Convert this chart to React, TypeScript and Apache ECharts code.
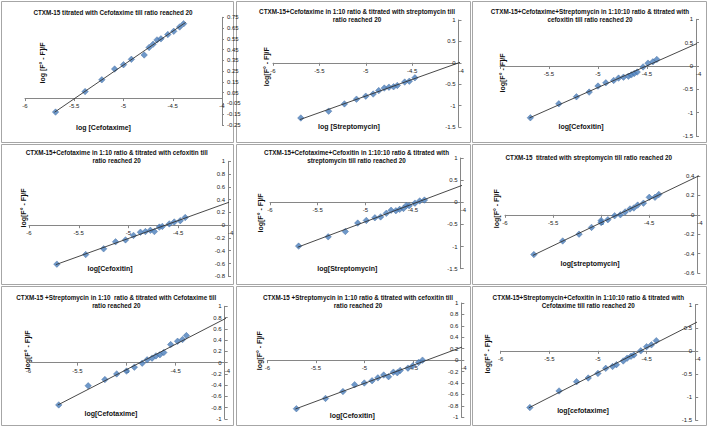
import React, { useEffect, useRef } from "react";
import * as echarts from "echarts";

// ---------- tick labels ----------
const xTicks = [-6, -5.5, -5, -4.5, -4];
const xTicksP3 = [-5.5, -5, -4.5, -4];
const p1YTicks = [-0.25, -0.15, -0.05, 0.05, 0.15, 0.25, 0.35, 0.45, 0.55, 0.65, 0.75];

// ---------- data ----------
const p1X = [-5.69, -5.39, -5.22, -5.09, -5.0, -4.92, -4.79, -4.74, -4.7, -4.66, -4.62, -4.55, -4.49, -4.43, -4.39];
const p1Y = [-0.13, 0.06, 0.17, 0.27, 0.31, 0.36, 0.4, 0.47, 0.5, 0.54, 0.55, 0.59, 0.62, 0.66, 0.69];

const p2X = [-5.7, -5.4, -5.23, -5.1, -5.0, -4.92, -4.86, -4.8, -4.75, -4.7, -4.66, -4.58, -4.53, -4.47];
const p2Y = [-1.29, -1.13, -0.96, -0.85, -0.78, -0.73, -0.65, -0.59, -0.57, -0.56, -0.53, -0.45, -0.43, -0.35];

const p3X = [-5.69, -5.4, -5.22, -5.09, -5.0, -4.92, -4.84, -4.79, -4.74, -4.69, -4.66, -4.63, -4.6, -4.54, -4.49, -4.44, -4.4];
const p3Y = [-1.11, -0.81, -0.66, -0.56, -0.43, -0.36, -0.31, -0.26, -0.24, -0.22, -0.19, -0.16, -0.13, -0.02, 0.06, 0.09, 0.14];

const p4X = [-5.72, -5.43, -5.25, -5.13, -5.03, -4.95, -4.88, -4.83, -4.78, -4.74, -4.69, -4.66, -4.59, -4.54, -4.48, -4.43];
const p4Y = [-0.61, -0.46, -0.37, -0.26, -0.23, -0.16, -0.11, -0.1, -0.08, -0.1, -0.03, -0.02, 0.02, 0.05, 0.07, 0.12];

const p5X = [-5.7, -5.39, -5.21, -5.08, -4.99, -4.9, -4.84, -4.78, -4.73, -4.68, -4.64, -4.6, -4.57, -4.54, -4.48, -4.43, -4.38];
const p5Y = [-0.99, -0.78, -0.66, -0.47, -0.41, -0.35, -0.33, -0.25, -0.18, -0.19, -0.16, -0.14, -0.07, -0.08, -0.02, 0.03, 0.05];

const p6X = [-5.7, -5.4, -5.23, -5.1, -5.0, -5.0, -4.93, -4.86, -4.8, -4.75, -4.7, -4.66, -4.62, -4.56, -4.5, -4.44, -4.4];
const p6Y = [-0.41, -0.27, -0.2, -0.13, -0.06, -0.08, -0.05, -0.01, 0.0, 0.03, 0.06, 0.07, 0.1, 0.12, 0.18, 0.18, 0.21];

const p7X = [-5.69, -5.39, -5.22, -5.1, -5.0, -4.92, -4.84, -4.79, -4.74, -4.7, -4.66, -4.62, -4.55, -4.48, -4.43, -4.39];
const p7Y = [-0.75, -0.41, -0.3, -0.2, -0.15, -0.08, -0.01, 0.05, 0.08, 0.12, 0.14, 0.18, 0.32, 0.38, 0.41, 0.48];

const p8X = [-5.7, -5.4, -5.22, -5.1, -5.0, -4.92, -4.86, -4.8, -4.75, -4.7, -4.66, -4.63, -4.55, -4.5, -4.44, -4.4];
const p8Y = [-0.85, -0.67, -0.55, -0.43, -0.4, -0.36, -0.31, -0.26, -0.29, -0.21, -0.22, -0.18, -0.14, -0.1, -0.04, 0.0];

const p9X = [-5.7, -5.4, -5.22, -5.1, -5.0, -4.92, -4.85, -4.81, -4.74, -4.7, -4.66, -4.63, -4.56, -4.5, -4.45, -4.4];
const p9Y = [-1.23, -0.87, -0.67, -0.59, -0.49, -0.38, -0.34, -0.3, -0.22, -0.16, -0.12, -0.09, 0.0, 0.09, 0.13, 0.22];

// ---------- texts ----------
const titles = [
  "CTXM-15 titrated with Cefotaxime till ratio reached 20",
  "CTXM-15+Cefotaxime in 1:10 ratio & titrated with streptomycin till\nratio reached 20",
  "CTXM-15+Cefotaxime+Streptomycin in 1:10:10 ratio & titrated with\ncefoxitin till ratio reached 20",
  "CTXM-15+Cefotaxime in 1:10 ratio & titrated with cefoxitin till\nratio reached 20",
  "CTXM-15+Cefotaxime+Cefoxitin in 1:10:10 ratio & titrated with\nstreptomycin till ratio reached 20",
  "CTXM-15  titrated with streptomycin till ratio reached 20",
  "CTXM-15 +Streptomycin in 1:10  ratio & titrated with Cefotaxime till\nratio reached 20",
  "CTXM-15 +Streptomycin in 1:10 ratio & titrated with cefoxitin till\nratio reached 20",
  "CTXM-15+Streptomycin+Cefoxitin in 1:10:10 ratio & titrated with\nCefotaxime till ratio reached 20",
];
const xNames = [
  "log [Cefotaxime]",
  "log [Streptomycin]",
  "log[Cefoxitin]",
  "log[Cefoxitin]",
  "log[Streptomycin]",
  "log[streptomycin]",
  "log[Cefotaxime]",
  "log[Cefoxitin]",
  "log[cefotaxime]",
];
const yNames = [
  "log [F° - F]/F",
  "log[F° - F]/F",
  "log[F° - F]/F",
  "log[F° - F]/F",
  "log[F° - F]/F",
  "log[F° - F]/F",
  "log[F° - F]/F",
  "log[F° - F]/F",
  "log[F° - F]/F",
];

// ---------- per-panel axis settings & layout ----------
const dataX = [p1X, p2X, p3X, p4X, p5X, p6X, p7X, p8X, p9X];
const dataY = [p1Y, p2Y, p3Y, p4Y, p5Y, p6Y, p7Y, p8Y, p9Y];
const yRanges = [
  [-0.25, 0.75, 0.1],
  [-1.5, 1, 0.5],
  [-1.5, 1, 0.5],
  [-0.8, 1, 0.2],
  [-1.5, 1, 0.5],
  [-0.6, 0.4, 0.2],
  [-1, 1, 0.2],
  [-1, 1, 0.2],
  [-1.5, 1, 0.5],
];
const trendEnds = [-4.37, -3.88, -3.89, -3.89, -3.88, -3.89, -3.89, -3.88, -3.89];

const grids = [
  { left: 25, top: 17.3, width: 197, height: 107.7 },
  { left: 273, top: 20, width: 185.5, height: 107 },
  { left: 500, top: 19.3, width: 196, height: 116.7 },
  { left: 29, top: 161.3, width: 199, height: 115 },
  { left: 270, top: 158, width: 190.7, height: 110.7 },
  { left: 505, top: 176, width: 192.3, height: 97 },
  { left: 28.3, top: 306.3, width: 196.4, height: 112.7 },
  { left: 267.3, top: 303, width: 194, height: 114.3 },
  { left: 500.7, top: 304.7, width: 194.5, height: 115.3 },
];
const titlePos = [
  [113, 12], [357, 15.5], [590, 15.5],
  [116.7, 156.8], [356.5, 156.8], [588.8, 157],
  [116.3, 301.5], [358, 301.5], [588.3, 301.5],
];
const xNamePos = [
  [103.5, 127], [349, 126.7], [581, 126.7],
  [110, 268.7], [347.3, 268.7], [590, 263.7],
  [111, 413.3], [352.3, 415.7], [583, 410.7],
];
const yNamePos = [
  [42, 63], [266.3, 66.7], [502, 73],
  [23.3, 208], [260, 213], [496, 208.7],
  [27.3, 350], [259, 350.7], [487.3, 354],
];
const boxes = [
  [1.5, 1.5, 232, 141], [236.5, 1.5, 234, 141], [472.5, 1.5, 234, 141],
  [1.5, 144.5, 232, 140], [236.5, 144.5, 234, 140], [472.5, 144.5, 234, 140],
  [1.5, 286.5, 232, 139], [236.5, 286.5, 234, 139], [472.5, 286.5, 234, 139],
];

const FONT = "'Liberation Sans', Arial, sans-serif";
const AXIS_COLOR = "#868686";

function linFit(xs: number[], ys: number[]) {
  const n = xs.length;
  let sx = 0, sy = 0, sxx = 0, sxy = 0;
  for (let i = 0; i < n; i++) {
    sx += xs[i]; sy += ys[i]; sxx += xs[i] * xs[i]; sxy += xs[i] * ys[i];
  }
  const slope = (n * sxy - sx * sy) / (n * sxx - sx * sx);
  const intercept = (sy - slope * sx) / n;
  return [slope, intercept];
}

function fmt(v: number) {
  return String(Math.round(v * 100) / 100);
}

export default function App() {
  const ref = useRef<HTMLDivElement>(null);

  useEffect(() => {
    if (!ref.current) return;
    const chart = echarts.init(ref.current, undefined, { renderer: "svg" });

    const xAxes: any[] = [];
    const yAxes: any[] = [];
    const series: any[] = [];
    const elements: any[] = [];

    for (let i = 0; i < 9; i++) {
      const [ymin, ymax, yint] = yRanges[i];
      // place the x axis (line, ticks, labels) at y = 0 of its panel
      const zeroOffset = -grids[i].height * (-ymin) / (ymax - ymin);
      const xLabel: any = {
        fontSize: 6,
        fontFamily: FONT,
        color: "#222",
        margin: 5,
        showMinLabel: true,
        showMaxLabel: true,
        formatter: (v: number) => fmt(v),
        customValues: i === 2 ? xTicksP3 : xTicks,
      };
      if (i !== 0) xLabel.alignMaxLabel = "left";
      xAxes.push({
        gridIndex: i,
        type: "value",
        position: "bottom",
        offset: zeroOffset,
        min: -6,
        max: -4,
        interval: 0.5,
        axisLine: { show: true, onZero: false, lineStyle: { color: AXIS_COLOR, width: 1 } },
        axisTick: { show: true, length: 3, lineStyle: { color: AXIS_COLOR } },
        splitLine: { show: false },
        axisLabel: xLabel,
      });
      const yLabel: any = {
        inside: i !== 0,
        fontSize: 6,
        fontFamily: FONT,
        color: "#222",
        margin: i === 0 ? 5 : 3,
        showMinLabel: true,
        showMaxLabel: true,
        formatter: (v: number) => fmt(v),
      };
      const yTick: any = { show: true, length: 3, inside: false, lineStyle: { color: AXIS_COLOR } };
      if (i === 0) {
        yLabel.customValues = p1YTicks;
        yTick.customValues = p1YTicks;
        yTick.length = 2;
      }
      yAxes.push({
        gridIndex: i,
        type: "value",
        position: "right",
        min: ymin,
        max: ymax,
        ...(i === 0 ? {} : { interval: yint }),
        axisLine: { show: true, onZero: false, lineStyle: { color: AXIS_COLOR, width: 1 } },
        axisTick: yTick,
        splitLine: { show: false },
        axisLabel: yLabel,
      });

      const xs = dataX[i];
      const ys = dataY[i];
      series.push({
        type: "scatter",
        xAxisIndex: i,
        yAxisIndex: i,
        data: xs.map((x, k) => [x, ys[k]]),
        symbol: "diamond",
        symbolSize: 6.5,
        itemStyle: { color: "#4A7EBB", borderColor: "#3A659A", borderWidth: 0.5 },
        z: 3,
      });
      const [m, b] = linFit(xs, ys);
      const x0 = Math.min(...xs) - 0.01;
      const x1 = trendEnds[i];
      series.push({
        type: "line",
        xAxisIndex: i,
        yAxisIndex: i,
        data: [[x0, m * x0 + b], [x1, m * x1 + b]],
        symbol: "none",
        showSymbol: false,
        clip: false,
        lineStyle: { color: "#333", width: 0.9 },
        z: 4,
      });

      const [bx, by, bw, bh] = boxes[i];
      elements.push({
        type: "rect",
        silent: true,
        z: -10,
        shape: { x: bx, y: by, width: bw, height: bh },
        style: { fill: "#fff", stroke: "#a6a6a6", lineWidth: 1 },
      });
      elements.push({
        type: "text",
        silent: true,
        x: titlePos[i][0],
        y: titlePos[i][1],
        style: {
          text: titles[i],
          fontSize: 6.3,
          fontWeight: "bold",
          fontFamily: FONT,
          fill: "#111",
          align: "center",
          verticalAlign: "middle",
          textAlign: "center",
          textVerticalAlign: "middle",
          lineHeight: 8,
        },
      });
      elements.push({
        type: "text",
        silent: true,
        x: xNamePos[i][0],
        y: xNamePos[i][1],
        style: {
          text: xNames[i],
          fontSize: 7,
          fontWeight: "bold",
          fontFamily: FONT,
          fill: "#111",
          align: "center",
          verticalAlign: "middle",
          textAlign: "center",
          textVerticalAlign: "middle",
        },
      });
      elements.push({
        type: "text",
        silent: true,
        x: yNamePos[i][0],
        y: yNamePos[i][1],
        rotation: Math.PI / 2,
        style: {
          text: yNames[i],
          fontSize: 7,
          fontWeight: "bold",
          fontFamily: FONT,
          fill: "#111",
          align: "center",
          verticalAlign: "middle",
          textAlign: "center",
          textVerticalAlign: "middle",
        },
      });
    }

    chart.setOption({
      animation: false,
      backgroundColor: "#ffffff",
      grid: grids.map((g) => ({ ...g, containLabel: false, outerBoundsMode: "none" })),
      xAxis: xAxes,
      yAxis: yAxes,
      series,
      graphic: { elements },
    });

    return () => {
      chart.dispose();
    };
  }, []);

  return (
    <div
      ref={ref}
      style={{ position: "absolute", left: 0, top: 0, width: 708, height: 428 }}
    />
  );
}
